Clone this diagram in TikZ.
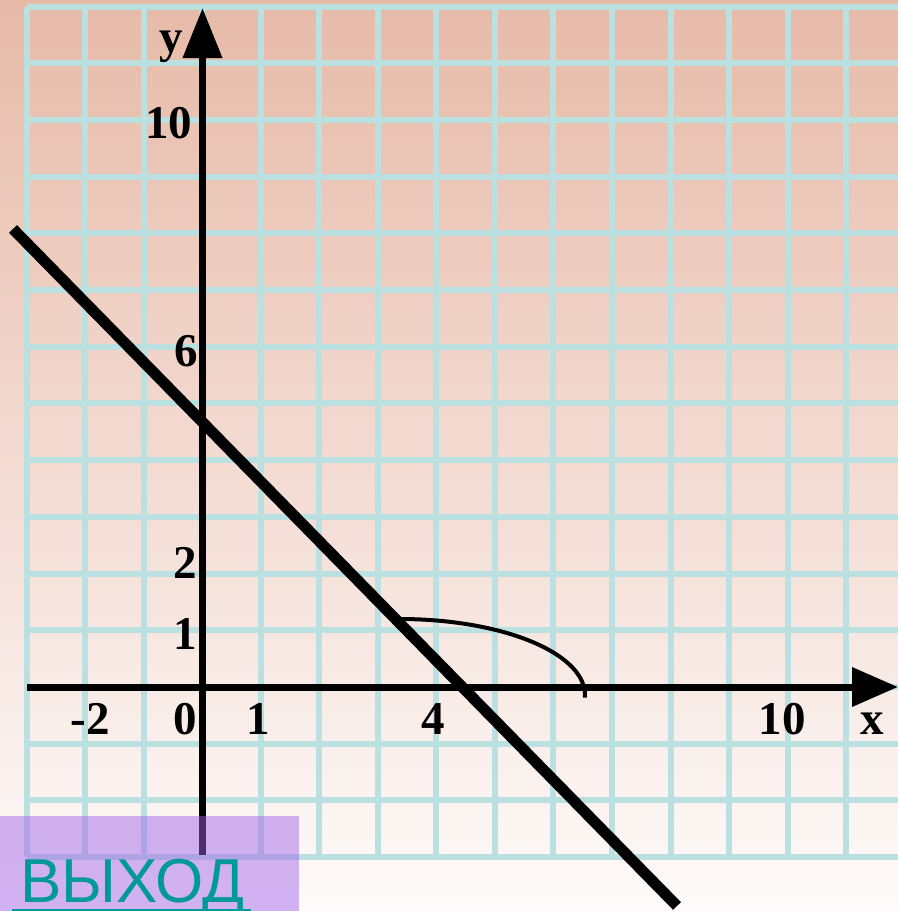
\documentclass[tikz,border=0pt]{standalone}
\usepackage{fontspec}
\setmainfont{Liberation Serif}
\newfontfamily\exitfont{Liberation Sans}
\usetikzlibrary{arrows.meta}

\definecolor{gridcyan}{RGB}{186,224,226}
\definecolor{bgtop}{RGB}{231,186,168}
\definecolor{bgbottom}{RGB}{254,251,250}
\definecolor{exitpurple}{RGB}{160,96,234}
\definecolor{exitteal}{RGB}{0,153,153}

\tikzset{
  gridline/.style={draw=gridcyan, line width=6pt},
  axisline/.style={line width=7pt},
  ticklabel/.style={font=\bfseries\fontsize{47}{47}\selectfont, inner sep=0pt, anchor=base},
  exitlabel/.style={font=\exitfont\fontsize{62}{62}\selectfont, text=exitteal, inner sep=0pt, anchor=base west},
}

\begin{document}
\begin{tikzpicture}[x=58.5pt, y=56.7pt]
  \useasboundingbox (-3.4615,-3.9506) rectangle (11.8889,12.1164);
  \shade[top color=bgtop, bottom color=bgbottom] (-3.4615,-3.9506) rectangle (11.8889,12.1164);
  \draw[gridline, xstep=1, ystep=1] (-3,-3) grid (11.8889,12);
  % axes
  \draw[axisline, -{Triangle[length=46pt,width=38pt]}] (-3,0) -- (11.8889,0);
  \draw[axisline, -{Triangle[length=50pt,width=38pt]}] (0,-2.97) -- (0,11.975);
  % line and arc
  \draw[line width=11pt] (-3.239,8.078) -- (8.111,-3.862);
  \draw[line width=4pt] (3.376,1.199) arc[start angle=90, end angle=-2, x radius=185pt, y radius=76pt];
  % labels
  \node[ticklabel] (ylab) at (-0.538,11.199) {y};
  \node[ticklabel] (y10) at (-0.573,9.665) {10};
  \node[ticklabel] (y6) at (-0.282,5.661) {6};
  \node[ticklabel] (y2) at (-0.299,1.922) {2};
  \node[ticklabel] (y1) at (-0.299,0.670) {1};
  \node[ticklabel] (xm2) at (-1.923,-0.829) {-2};
  \node[ticklabel] (x0) at (-0.299,-0.829) {0};
  \node[ticklabel] (x1) at (0.949,-0.829) {1};
  \node[ticklabel] (x4) at (3.940,-0.829) {4};
  \node[ticklabel] (x10) at (9.906,-0.829) {10};
  \node[ticklabel] (xlab) at (11.444,-0.829) {x};
  % exit button
  \fill[exitpurple, fill opacity=0.47] (-3.4615,-3.9506) rectangle (1.650,-2.275);
  \node[exitlabel] (exit) at (-3.120,-3.792) {ВЫХОД};
  \draw[exitteal, line width=2.5pt] ([xshift=-8pt,yshift=-8pt]exit.base west) -- ([xshift=6pt,yshift=-8pt]exit.base east);
\end{tikzpicture}
\end{document}
